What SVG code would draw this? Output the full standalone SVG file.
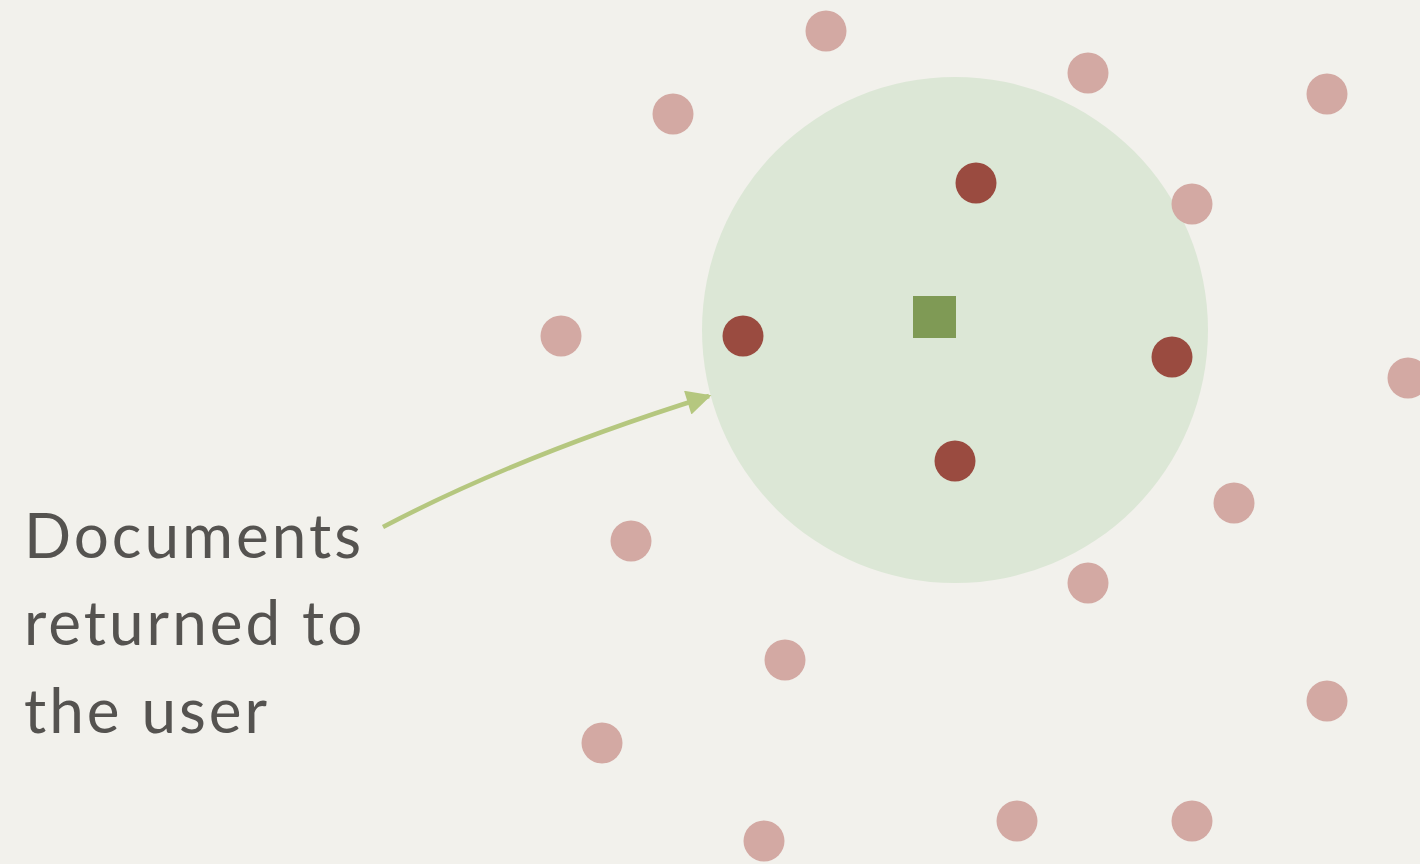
<svg xmlns="http://www.w3.org/2000/svg" width="1420" height="864" viewBox="0 0 1420 864">
<style>
.bg{fill:#f2f1ec}
.zone{fill:#dce7d6}
.hit{fill:#9a4b40}
.miss{fill:#d3a9a3}
.query{fill:#7f9a55}
.lbl{font-family:Lato,"Open Sans",sans-serif;font-size:62px;fill:#555350;letter-spacing:3px}
.arr{fill:none;stroke:#b5c77f;stroke-width:4.5}
</style>
<defs>
<marker id="ah" viewBox="0 0 10 10" refX="9" refY="5" markerWidth="6" markerHeight="5.5" markerUnits="strokeWidth" orient="auto">
<path d="M0,0 L10,5 L0,10 z" fill="#b5c77f"/>
</marker>
</defs>
<rect class="bg" width="1420" height="864"/>
<g id="search-radius"><circle class="zone" cx="955" cy="330" r="253"/></g>
<g id="query"><rect class="query" x="913" y="296" width="43" height="42"/></g>
<g id="returned">
<circle class="hit" cx="976" cy="183" r="20.5"/>
<circle class="hit" cx="743" cy="336" r="20.5"/>
<circle class="hit" cx="1172" cy="357" r="20.5"/>
<circle class="hit" cx="955" cy="461" r="20.5"/>
</g>
<g id="others">
<circle class="miss" cx="826" cy="31" r="20.5"/>
<circle class="miss" cx="1088" cy="73" r="20.5"/>
<circle class="miss" cx="1327" cy="94" r="20.5"/>
<circle class="miss" cx="673" cy="114" r="20.5"/>
<circle class="miss" cx="1192" cy="204" r="20.5"/>
<circle class="miss" cx="561" cy="336" r="20.5"/>
<circle class="miss" cx="1408" cy="378" r="20.5"/>
<circle class="miss" cx="1234" cy="503" r="20.5"/>
<circle class="miss" cx="631" cy="541" r="20.5"/>
<circle class="miss" cx="1088" cy="583" r="20.5"/>
<circle class="miss" cx="785" cy="660" r="20.5"/>
<circle class="miss" cx="1327" cy="701" r="20.5"/>
<circle class="miss" cx="602" cy="743" r="20.5"/>
<circle class="miss" cx="1017" cy="821" r="20.5"/>
<circle class="miss" cx="1192" cy="821" r="20.5"/>
<circle class="miss" cx="764" cy="841" r="20.5"/>
</g>
<g id="connectors">
<path class="arr" d="M383,527 Q520,455 709,396" marker-end="url(#ah)"/>
</g>
<g id="label">
<text class="lbl" x="24" y="558">Documents</text>
<text class="lbl" x="24" y="645">returned to</text>
<text class="lbl" x="24" y="733">the user</text>
</g>
</svg>
